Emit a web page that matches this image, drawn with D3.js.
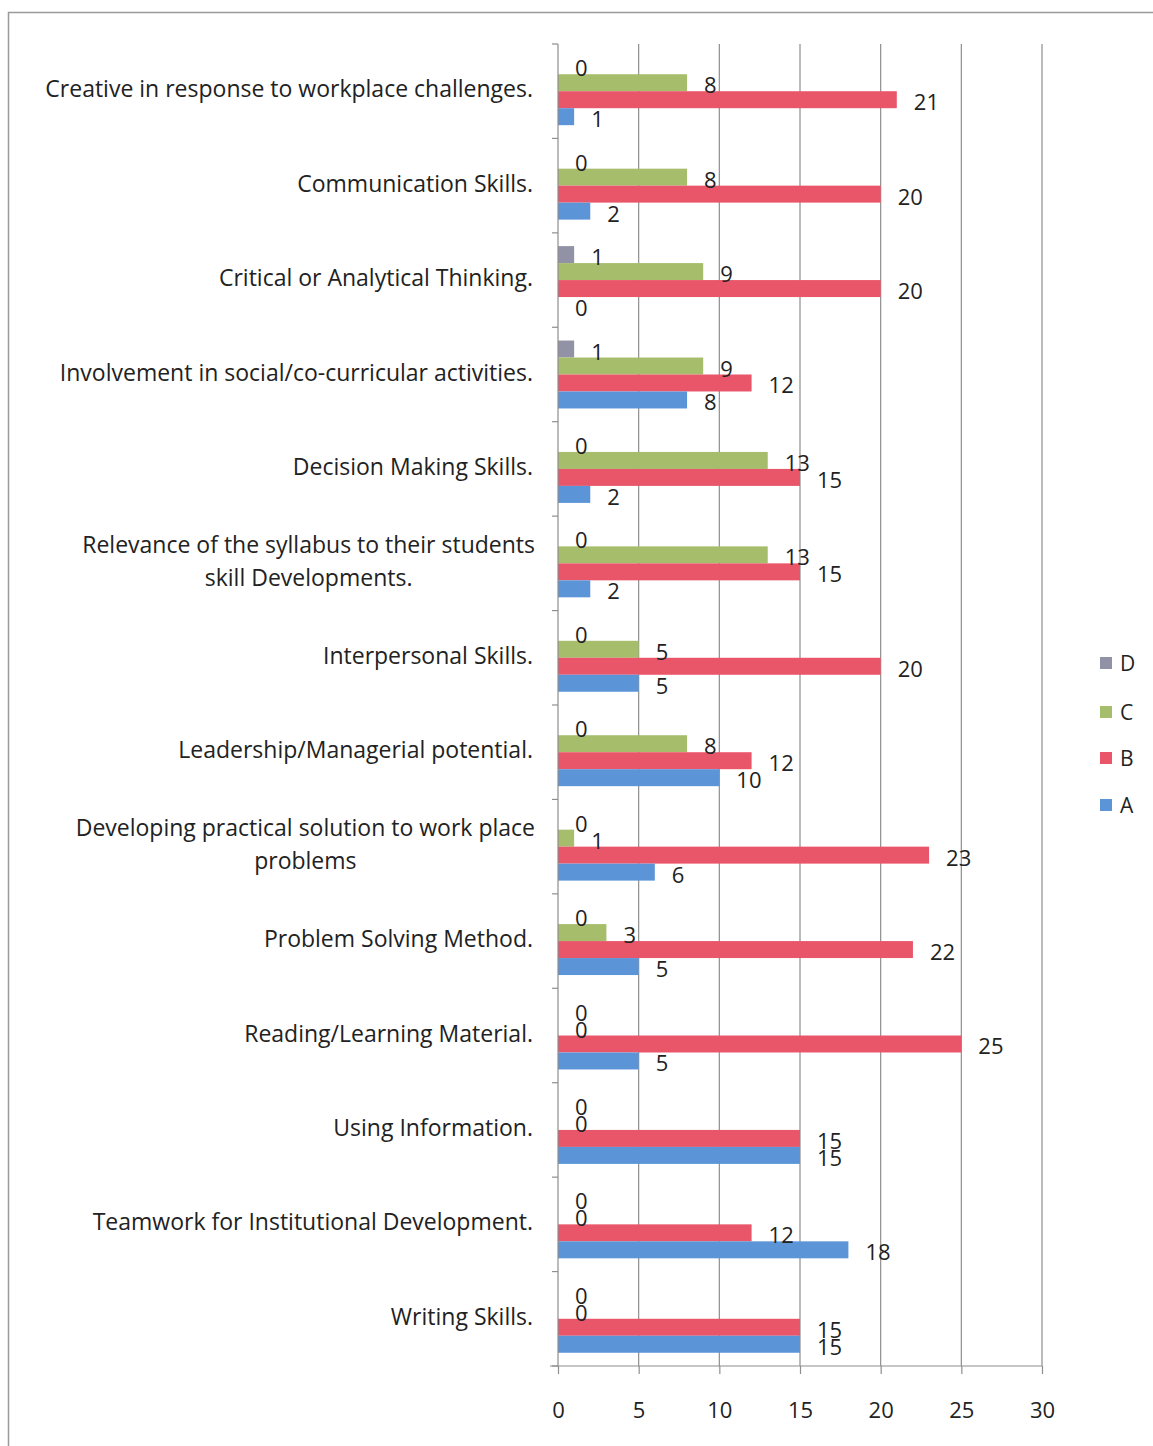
<!DOCTYPE html>
<html><head><meta charset="utf-8">
<script src="https://cdn.jsdelivr.net/npm/d3@7"></script>
<style>body{margin:0;background:#fff;}svg{display:block;}</style>
</head><body>
<svg id="chart" width="1153" height="1446"></svg>
<script>
const categories = [
  "Creative in response to workplace challenges.",
  "Communication Skills.",
  "Critical or Analytical Thinking.",
  "Involvement in social/co-curricular activities.",
  "Decision Making Skills.",
  "Relevance of the syllabus to their students|skill Developments.",
  "Interpersonal Skills.",
  "Leadership/Managerial potential.",
  "Developing practical solution to work place|problems",
  "Problem Solving Method.",
  "Reading/Learning Material.",
  "Using Information.",
  "Teamwork for Institutional Development.",
  "Writing Skills."
];
const seriesNames = ["D", "C", "B", "A"];
const valuesD = [0, 0, 1, 1, 0, 0, 0, 0, 0, 0, 0, 0, 0, 0];
const valuesC = [8, 8, 9, 9, 13, 13, 5, 8, 1, 3, 0, 0, 0, 0];
const valuesB = [21, 20, 20, 12, 15, 15, 20, 12, 23, 22, 25, 15, 12, 15];
const valuesA = [1, 2, 0, 8, 2, 2, 5, 10, 6, 5, 5, 15, 18, 15];
const xTicks = [0, 5, 10, 15, 20, 25, 30];
const colors = {D: "#9292a6", C: "#a6bd6c", B: "#e9566a", A: "#5b95d8"};

const seriesValues = {D: valuesD, C: valuesC, B: valuesB, A: valuesA};
const svg = d3.select("#chart");
const font = "'Open Sans', sans-serif";

// outer border
svg.append("rect").attr("x", 8.5).attr("y", 12.5).attr("width", 1160).attr("height", 1450)
  .attr("fill", "none").attr("stroke", "#9a9a9a").attr("stroke-width", 1.5);

const x = d3.scaleLinear().domain([0, 30]).range([558, 1042]);
const y = d3.scaleBand().domain(categories).range([44, 1366]).padding(0);
const ys = d3.scaleBand().domain(seriesNames).range([0, y.bandwidth()]).paddingInner(0).paddingOuter(0.78);

const g = svg.append("g");

// gridlines
g.selectAll("line.grid").data(xTicks.slice(1)).join("line")
  .attr("x1", d => x(d)).attr("x2", d => x(d))
  .attr("y1", 44).attr("y2", 1366)
  .attr("stroke", "#8e8e8e").attr("stroke-width", 1.2);

// bars
seriesNames.forEach(s => {
  g.selectAll("rect.bar" + s).data(categories).join("rect")
    .attr("x", x(0))
    .attr("y", (c) => y(c) + ys(s))
    .attr("width", (c, i) => x(seriesValues[s][i]) - x(0))
    .attr("height", ys.bandwidth())
    .attr("fill", colors[s]);
});

// y axis line and ticks
g.append("line").attr("x1", 558).attr("x2", 558).attr("y1", 44).attr("y2", 1366)
  .attr("stroke", "#8e8e8e").attr("stroke-width", 1.2);
const bounds = categories.map(c => y(c)).concat([1366]);
g.selectAll("line.ytick").data(bounds).join("line")
  .attr("x1", 552).attr("x2", 558).attr("y1", d => d).attr("y2", d => d)
  .attr("stroke", "#8e8e8e").attr("stroke-width", 1.2);

// x axis
const xAxis = d3.axisBottom(x).tickValues(xTicks).tickSize(8).tickPadding(28);
const xa = svg.append("g").attr("transform", "translate(0,1366)").call(xAxis);
xa.select(".domain").attr("d", "M550,0H1042").attr("stroke", "#8e8e8e").attr("stroke-width", 1.2);
xa.selectAll(".tick line").attr("stroke", "#8e8e8e").attr("stroke-width", 1.2);
xa.selectAll(".tick text").attr("font-family", font).attr("font-size", 22).attr("fill", "#222");

// data labels
seriesNames.forEach(s => {
  g.selectAll("text.lab" + s).data(categories).join("text")
    .attr("x", (c, i) => x(seriesValues[s][i]) + 17)
    .attr("y", c => y(c) + ys(s) + ys.bandwidth() / 2 + 1.5)
    .attr("dominant-baseline", "central")
    .attr("font-family", font).attr("font-size", 22).attr("fill", "#222")
    .text((c, i) => seriesValues[s][i]);
});

// category labels
categories.forEach(c => {
  const lines = c.split("|");
  const cy = y(c) + y.bandwidth() / 2 - 3;
  const t = svg.append("text").attr("font-family", font).attr("font-size", 23).attr("fill", "#222")
    .attr("dominant-baseline", "central");
  if (lines.length === 1) {
    t.attr("text-anchor", "end").attr("x", 533).attr("y", cy).text(lines[0]);
  } else {
    t.attr("text-anchor", "middle");
    lines.forEach((l, k) => {
      t.append("tspan").attr("x", 0).attr("y", cy + (k - (lines.length - 1) / 2) * 33).text(l);
    });
  }
  if (lines.length > 1) {
    const w = d3.max(t.selectAll("tspan").nodes(), n => n.getComputedTextLength());
    t.selectAll("tspan").attr("x", 535 - w / 2);
  }
});

// legend
const legendY = {D: 663, C: 712, B: 758, A: 805};
seriesNames.forEach(s => {
  svg.append("rect").attr("x", 1100).attr("y", legendY[s] - 6).attr("width", 12).attr("height", 12).attr("fill", colors[s]);
  svg.append("text").attr("x", 1120).attr("y", legendY[s]).attr("dominant-baseline", "central")
    .attr("font-family", font).attr("font-size", 21).attr("fill", "#222").text(s);
});
</script>
</body></html>
